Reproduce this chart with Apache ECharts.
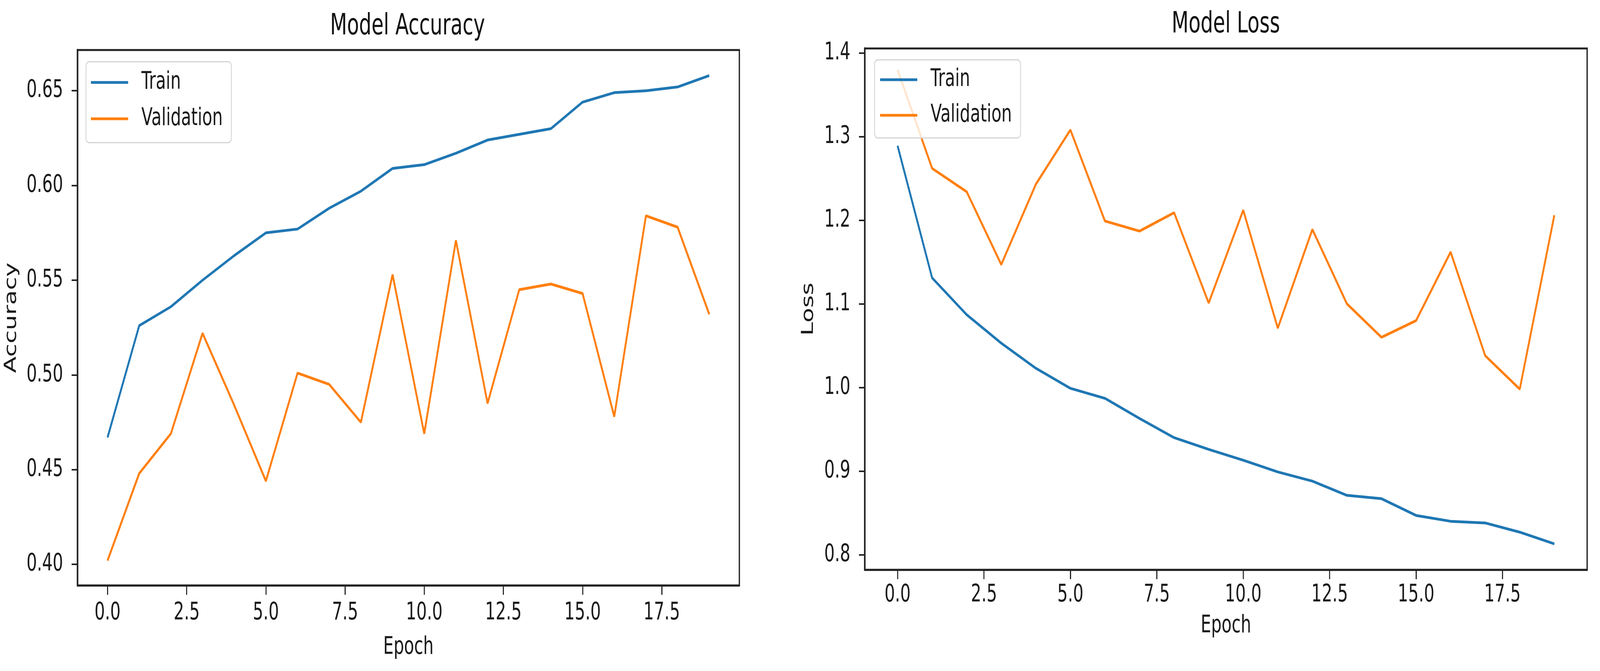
<!DOCTYPE html>
<html><head><meta charset="utf-8">
<script src="https://cdn.jsdelivr.net/npm/echarts@6/dist/echarts.min.js"></script>
<style>
html,body{margin:0;padding:0;background:#fff;overflow:hidden;width:100%;height:100%;}
#wrap{position:fixed;left:0;top:0;width:100vw;height:100vh;overflow:hidden;background:#fff;}
#c{position:absolute;left:0;top:0;width:6026px;height:1717px;transform-origin:0 0;}
</style></head><body><div id="wrap"><div id="c"></div></div>
<script>
const epochs = [0,1,2,3,4,5,6,7,8,9,10,11,12,13,14,15,16,17,18,19];
const accTrain = [0.467,0.526,0.536,0.550,0.563,0.575,0.577,0.588,0.597,0.609,0.611,0.617,0.624,0.627,0.630,0.644,0.649,0.650,0.652,0.658];
const accVal = [0.402,0.448,0.469,0.522,0.484,0.444,0.501,0.495,0.475,0.553,0.469,0.571,0.485,0.545,0.548,0.543,0.478,0.584,0.578,0.532];
const lossTrain = [1.289,1.131,1.087,1.053,1.023,0.999,0.987,0.963,0.940,0.926,0.913,0.899,0.888,0.871,0.867,0.847,0.840,0.838,0.827,0.813];
const lossVal = [1.380,1.262,1.234,1.147,1.243,1.308,1.199,1.187,1.209,1.101,1.212,1.071,1.189,1.100,1.060,1.080,1.162,1.038,0.998,1.206];
const xTicks = [0,2.5,5,7.5,10,12.5,15,17.5];
const accTicks = [0.40,0.45,0.50,0.55,0.60,0.65];
const lossTicks = [0.8,0.9,1.0,1.1,1.2,1.3,1.4];
const seriesNames = ['Train','Validation'];
const titles = ['Model Accuracy','Model Loss'];
const yNames = ['Accuracy','Loss'];
const xName = 'Epoch';

const FONT = 'DejaVu Sans';
const TXT = '#1a1a1a';
const AX = '#222';
const BLUE = '#1f77b4', ORANGE = '#ff7f0e';
const SX = 0.72;

const el = document.getElementById('c');
const vw = window.innerWidth || 4339, vh = window.innerHeight || 1717;
el.style.transform = 'scale(' + (vw / 4339 * SX) + ',' + (vh / 1717) + ')';

const pairs = arr => arr.map((v,i)=>[epochs[i], v]);

function xAxis(gi, margin, gap){
  return {gridIndex:gi, type:'value', min:-0.95, max:19.95,
    splitLine:{show:false},
    axisLine:{show:true, onZero:false, lineStyle:{color:AX, width:5}},
    axisTick:{show:true, length:24, customValues:xTicks, lineStyle:{color:AX, width:4}},
    axisLabel:{customValues:xTicks, formatter:v=>Number(v).toFixed(1), margin:margin, fontSize:62, fontFamily:FONT, color:TXT},
    name:xName, nameLocation:'middle', nameGap:gap,
    nameTextStyle:{fontSize:62, fontFamily:FONT, color:TXT}};
}
function yAxis(gi, min, max, ticks, dec, name, gap){
  return {gridIndex:gi, type:'value', min:min, max:max,
    splitLine:{show:false},
    axisLine:{show:true, onZero:false, lineStyle:{color:AX, width:6}},
    axisTick:{show:true, length:22, customValues:ticks, lineStyle:{color:AX, width:4}},
    axisLabel:{customValues:ticks, formatter:v=>Number(v).toFixed(dec), margin:54, fontSize:62, fontFamily:FONT, color:TXT},
    name:name, nameLocation:'middle', nameGap:gap, nameRotate:90,
    nameTextStyle:{fontSize:62, fontFamily:FONT, color:TXT}};
}
function legend(left, top, pad, gap){
  return {orient:'vertical', left:left, top:top, padding:pad, itemGap:gap,
    itemWidth:140, itemHeight:7, icon:'rect', data:seriesNames,
    backgroundColor:'rgba(255,255,255,0.8)', borderColor:'#d4d4d4', borderWidth:3, borderRadius:12,
    textStyle:{fontSize:62, lineHeight:62, fontFamily:FONT, color:TXT, padding:[0,0,0,45]}};
}
function line(name, data, color, gi){
  return {name:name, type:'line', xAxisIndex:gi, yAxisIndex:gi, data:pairs(data),
    showSymbol:false, symbol:'none', color:color, itemStyle:{color:color},
    lineStyle:{color:color, width:7}, z:2};
}

const chart = echarts.init(el, null, {renderer:'canvas', width:6026, height:1717});
chart.setOption({
  animation:false,
  backgroundColor:'#fff',
  title:[
    {text:titles[0], left:1535, top:32, textAlign:'center', textVerticalAlign:'top', padding:0,
     textStyle:{fontSize:74, fontWeight:'normal', fontFamily:FONT, color:'#111'}},
    {text:titles[1], left:4617, top:27, textAlign:'center', textVerticalAlign:'top', padding:0,
     textStyle:{fontSize:74, fontWeight:'normal', fontFamily:FONT, color:'#111'}}
  ],
  legend:[legend(323.6, 158, [22,33,30,19], 31), legend(3294, 153, [20,33,27,21], 29)],
  grid:[
    {left:291.7, top:128, width:2493, height:1370, show:true, borderColor:AX, borderWidth:5, backgroundColor:'transparent', containLabel:false},
    {left:3257, top:124, width:2721, height:1334, show:true, borderColor:AX, borderWidth:5, backgroundColor:'transparent', containLabel:false}
  ],
  xAxis:[xAxis(0, 40, 128), xAxis(1, 34, 113)],
  yAxis:[yAxis(0, 0.3889, 0.6715, accTicks, 2, yNames[0], 217), yAxis(1, 0.782, 1.4054, lossTicks, 1, yNames[1], 180)],
  series:[
    line(seriesNames[0], accTrain, BLUE, 0),
    line(seriesNames[1], accVal, ORANGE, 0),
    line(seriesNames[0], lossTrain, BLUE, 1),
    line(seriesNames[1], lossVal, ORANGE, 1)
  ]
});
</script></body></html>
